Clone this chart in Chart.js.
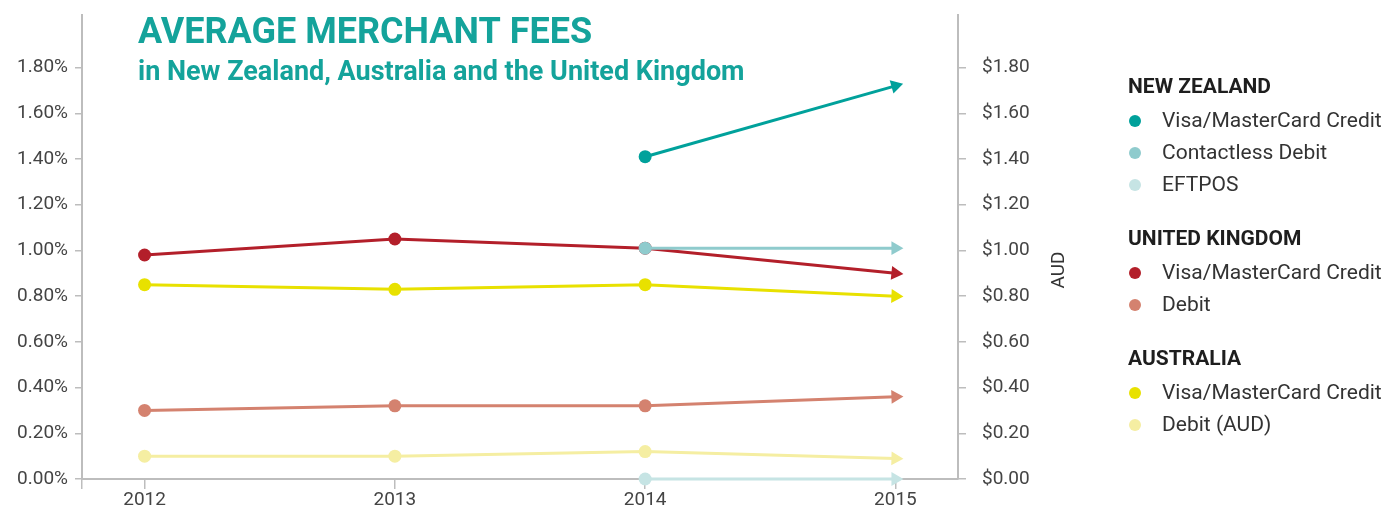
<!DOCTYPE html>
<html>
<head>
<meta charset="utf-8">
<script src="https://cdn.jsdelivr.net/npm/chart.js@4.4.0/dist/chart.umd.min.js"></script>
<style>
  html, body { margin: 0; padding: 0; background: #fff; }
  #wrap { position: relative; width: 1388px; height: 519px; }
</style>
</head>
<body>
<div id="wrap"><canvas id="feesChart"></canvas></div>
<script>
// data (fee in % / AUD)
var years = [2012, 2013, 2014, 2015];
var yTicks = [0, 0.2, 0.4, 0.6, 0.8, 1.0, 1.2, 1.4, 1.6, 1.8];

var nzCredit      = [null, null, 1.41, 1.72];
var nzContactless = [null, null, 1.01, 1.01];
var nzEftpos      = [null, null, 0.00, 0.00];
var ukCredit      = [0.98, 1.05, 1.01, 0.90];
var ukDebit       = [0.30, 0.32, 0.32, 0.36];
var auCredit      = [0.85, 0.83, 0.85, 0.80];
var auDebit       = [0.10, 0.10, 0.12, 0.09];

var titleText = 'AVERAGE MERCHANT FEES';
var subtitleText = 'in New Zealand, Australia and the United Kingdom';

Chart.defaults.font.family = 'Roboto';
Chart.defaults.color = '#444';

var axisGrey = '#bdbdbd';
var lastIdx = years.length - 1;

function makeSeries(label, group, color, values) {
  return {
    label: label,
    group: group,
    data: years.map(function (yr, i) { return { x: yr, y: values[i] }; }),
    borderColor: color,
    backgroundColor: color,
    pointBackgroundColor: color,
    pointBorderWidth: 0,
    borderWidth: 3,
    tension: 0,
    clip: false,
    pointStyle: function (c) { return c.dataIndex === lastIdx ? 'triangle' : 'circle'; },
    pointRadius: function (c) { return c.dataIndex === lastIdx ? 8 : 6.5; },
    pointRotation: function (c) {
      if (c.dataIndex !== lastIdx) return 0;
      var d = c.dataset.data;
      var xs = c.chart.scales.x, ys = c.chart.scales.y;
      var dx = xs.getPixelForValue(d[lastIdx].x) - xs.getPixelForValue(d[lastIdx - 1].x);
      var dy = ys.getPixelForValue(d[lastIdx].y) - ys.getPixelForValue(d[lastIdx - 1].y);
      return Math.atan2(dx, -dy) * 180 / Math.PI;
    }
  };
}

var datasets = [
  makeSeries('Visa/MasterCard Credit', 'NEW ZEALAND', '#00a19b', nzCredit),
  makeSeries('Contactless Debit', 'NEW ZEALAND', '#8fcbcd', nzContactless),
  makeSeries('EFTPOS', 'NEW ZEALAND', '#c6e4e4', nzEftpos),
  makeSeries('Visa/MasterCard Credit', 'UNITED KINGDOM', '#b31f2a', ukCredit),
  makeSeries('Debit', 'UNITED KINGDOM', '#d4826f', ukDebit),
  makeSeries('Visa/MasterCard Credit', 'AUSTRALIA', '#e8e100', auCredit),
  makeSeries('Debit (AUD)', 'AUSTRALIA', '#f5eea2', auDebit)
];

// titles, AUD axis caption and the grouped legend
var extrasPlugin = {
  id: 'extras',
  afterDraw: function (chart) {
    var ctx = chart.ctx;
    ctx.save();
    ctx.textAlign = 'left';
    ctx.textBaseline = 'alphabetic';
    ctx.fillStyle = '#14a39b';
    ctx.font = 'bold 36px Roboto';
    ctx.fillText(titleText, 138, 43);
    ctx.font = 'bold 27px Roboto';
    ctx.fillText(subtitleText, 138, 80);

    ctx.save();
    ctx.translate(1059, 270);
    ctx.rotate(-Math.PI / 2);
    ctx.textAlign = 'center';
    ctx.textBaseline = 'middle';
    ctx.fillStyle = '#333';
    ctx.font = '19px Roboto';
    ctx.fillText('AUD', 0, 0);
    ctx.restore();

    // legend
    var y = 88, group = null;
    ctx.textBaseline = 'middle';
    chart.data.datasets.forEach(function (ds) {
      if (ds.group !== group) {
        if (group !== null) y += 55;
        group = ds.group;
        ctx.fillStyle = '#1e1e1e';
        ctx.font = 'bold 21px Roboto';
        ctx.fillText(group, 1128, y);
        y += 33;
      } else {
        y += 32;
      }
      ctx.beginPath();
      ctx.arc(1135, y, 6, 0, Math.PI * 2);
      ctx.fillStyle = ds.borderColor;
      ctx.fill();
      ctx.fillStyle = '#333';
      ctx.font = '21px Roboto';
      ctx.fillText(ds.label, 1162, y + 1);
    });
    ctx.restore();
  }
};

function fixedTicks(scale) {
  scale.ticks = yTicks.map(function (v) { return { value: v }; });
}

// vertical axes: fixed width, no extra room reserved for the end labels
function fitY(width) {
  return function (scale) {
    scale.width = width;
    scale.paddingTop = 0;
    scale.paddingBottom = 0;
  };
}

var ctx = document.getElementById('feesChart').getContext('2d');
var feesChart = new Chart(ctx, {
  type: 'line',
  data: { datasets: datasets },
  options: {
    responsive: true,
    maintainAspectRatio: false,
    animation: false,
    events: [],
    layout: { padding: { top: 15, right: 340, bottom: 0, left: 0 } },
    plugins: { legend: { display: false }, tooltip: { enabled: false } },
    scales: {
      x: {
        type: 'linear',
        min: 2011.75,
        max: 2015.25,
        afterBuildTicks: function (scale) {
          scale.ticks = [2011.75].concat(years).map(function (v) { return { value: v }; });
        },
        afterFit: function (scale) {
          scale.height = 40;
          scale.paddingLeft = 0;
          scale.paddingRight = 0;
        },
        border: { color: axisGrey, width: 2 },
        grid: { drawOnChartArea: false, tickLength: 10, color: axisGrey, lineWidth: 1.5 },
        ticks: {
          padding: 0,
          maxRotation: 0,
          font: { size: 19 },
          callback: function (v) { return Number.isInteger(v) ? String(v) : ''; }
        }
      },
      y: {
        position: 'left',
        min: 0,
        max: 2.03,
        afterBuildTicks: fixedTicks,
        afterFit: fitY(82),
        border: { color: axisGrey, width: 2 },
        grid: { drawOnChartArea: false, tickLength: 7, color: axisGrey, lineWidth: 1.5 },
        ticks: {
          padding: 7,
          font: { size: 19 },
          callback: function (v) { return v.toFixed(2) + '%'; }
        }
      },
      y1: {
        position: 'right',
        min: 0,
        max: 2.03,
        afterBuildTicks: fixedTicks,
        afterFit: fitY(90),
        border: { color: axisGrey, width: 2 },
        grid: { drawOnChartArea: false, tickLength: 8, color: axisGrey, lineWidth: 1.5 },
        ticks: {
          padding: 16,
          font: { size: 19 },
          callback: function (v) { return '$' + v.toFixed(2); }
        }
      }
    }
  },
  plugins: [extrasPlugin]
});
</script>
</body>
</html>
